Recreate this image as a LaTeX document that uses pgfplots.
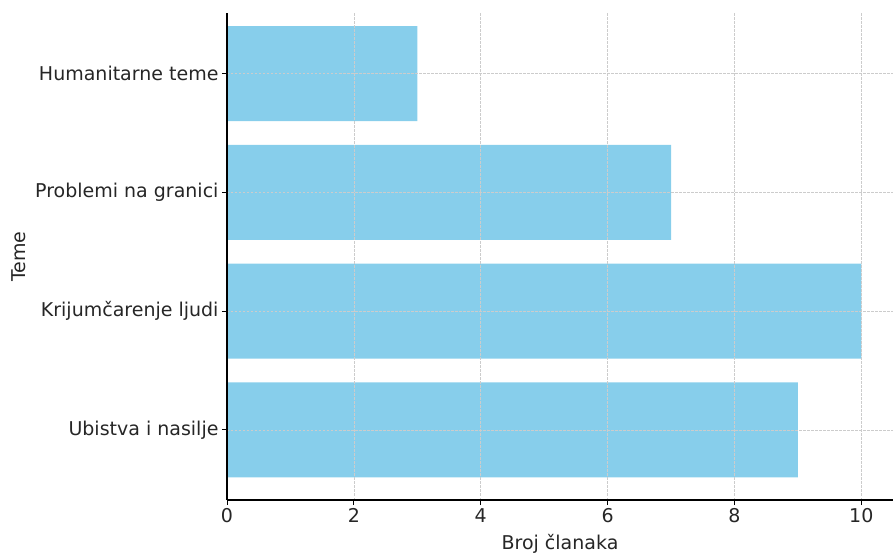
\documentclass[border=0pt]{standalone}
\usepackage{pgfplots}
\pgfplotsset{compat=1.18}
\usepackage{fontspec}
\setmainfont{DejaVu Sans}
\definecolor{barc}{HTML}{87CEEB}
\definecolor{txt}{HTML}{262626}
\newcommand{\lblfont}{\fontsize{19}{22}\selectfont}
\begin{document}
\begin{tikzpicture}
\begin{axis}[
    name=ax, at={(0,0)}, anchor=south west,
    scale only axis, width=666pt, height=487pt,
    xbar, bar width=95pt, bar shift=0pt,
    xmin=0, xmax=10.5, ymin=-0.59, ymax=3.51,
    xtick={0,2,...,10},
    ytick={0,1,2,3},
    yticklabels={Ubistva i nasilje, Krijumčarenje ljudi, Problemi na granici, Humanitarne teme},
    axis lines*=left,
    axis line style={black, line width=1.2pt},
    tick align=outside, major tick length=5pt,
    tick style={black, line width=0.9pt},
    grid=major,
    major grid style={dash pattern=on 2.5pt off 1.5pt, color=black!20, line width=0.6pt},
    axis on top,
    ticklabel style={font=\lblfont, text=txt},
    /pgf/number format/assume math mode=true,
    label style={font=\lblfont, text=txt},
    xlabel={Broj članaka},
    ylabel={Teme},
    xlabel style={yshift=-5pt},
    ylabel style={yshift=3pt},
]
    \addplot[fill=barc, draw=none] coordinates {
        (9,0) (10,1) (7,2) (3,3)
    };
\end{axis}
\pgfresetboundingbox
\path[use as bounding box] ([xshift=-227pt,yshift=-56pt]ax.south west) rectangle ([yshift=13pt]ax.north east);
\end{tikzpicture}
\end{document}
